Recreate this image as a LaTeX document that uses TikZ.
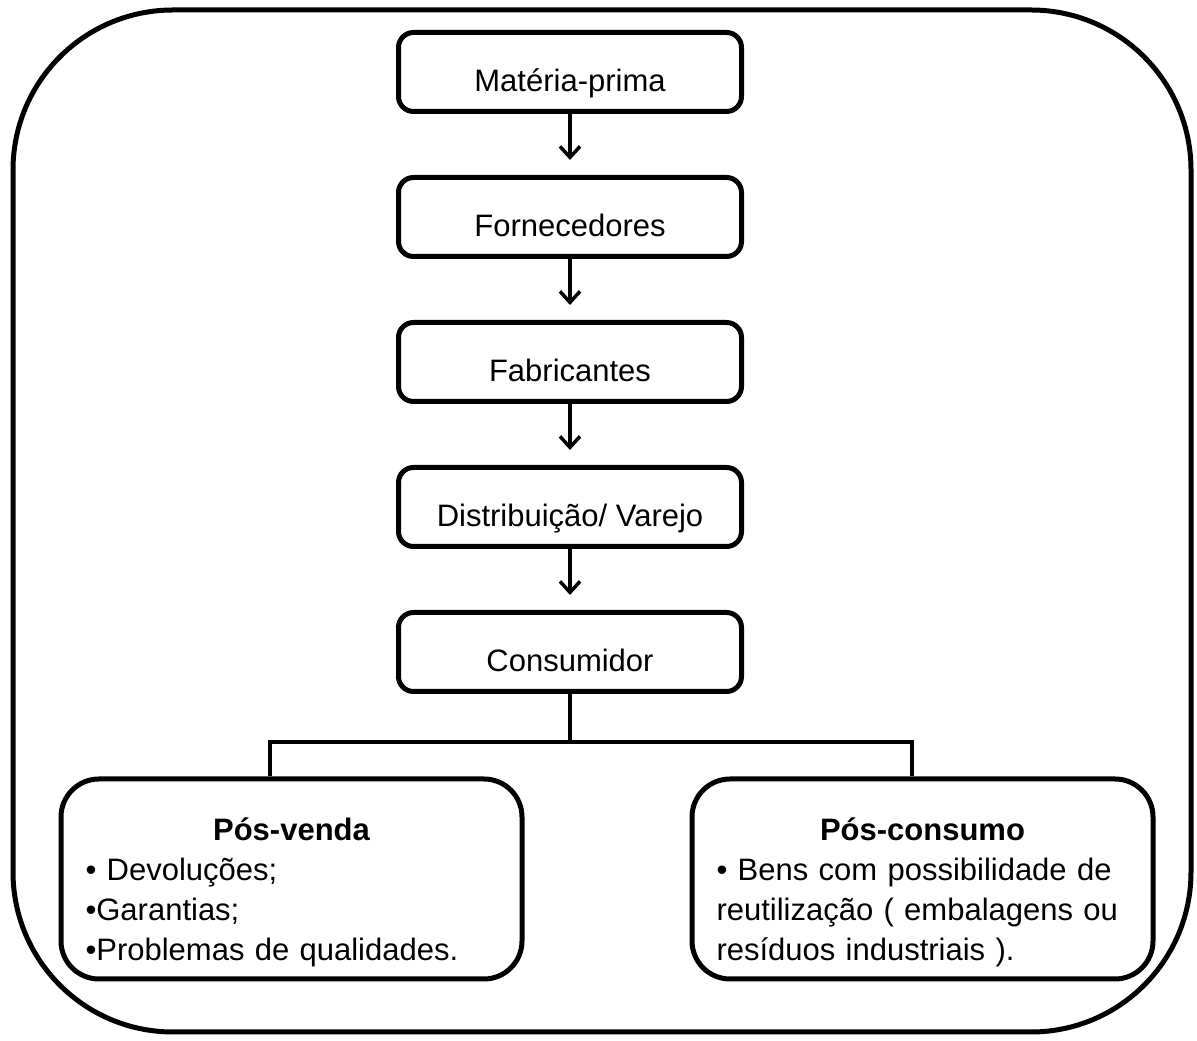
\documentclass[tikz,border=0pt]{standalone}
\usepackage{fontspec}
\setmainfont{Liberation Sans}
\usetikzlibrary{arrows.meta, positioning}

\tikzset{
  stage/.style={rectangle, rounded corners=15pt, draw, line width=5pt,
    minimum width=343pt, minimum height=79pt, text height=40pt, text depth=0pt,
    font=\fontsize{31}{40}\selectfont},
  flowbox/.style={rectangle, rounded corners=38pt, draw, line width=5pt,
    minimum width=461pt, minimum height=200pt, text width=412pt, inner xsep=24.5pt,
    align=left, font=\fontsize{31}{40}\selectfont},
}

\begin{document}
\begin{tikzpicture}[x=1pt, y=1pt, >={Straight Barb[length=11pt, width=20pt]}, node distance=61pt, line width=3.5pt]
        \useasboundingbox (0,0) rectangle (1197,1041);

        % moldura externa
        \draw[line width=5pt, rounded corners=160pt] (13,9) rectangle (1191,1031);

        \node[stage] at (570,969) (mat) {Matéria-prima};
        \node[stage, below=of mat] (forn) {Fornecedores};
        \node[stage, below=of forn] (fab) {Fabricantes};
        \node[stage, below=of fab] (dist) {Distribuição/ Varejo};
        \node[stage, below=of dist] (cons) {Consumidor};

        \node[flowbox] at (291.5,162) (venda) {\makebox[\linewidth]{\rule{0pt}{49pt}\bfseries Pós-venda}\\
          • Devoluções;\\•Garantias;\\•Problemas de qualidades.};
        \node[flowbox] at (922.5,162) (consumo) {\makebox[\linewidth]{\rule{0pt}{49pt}\bfseries Pós-consumo}\\
          • Bens com possibilidade de\\reutilização ( embalagens ou\\resíduos industriais ).};

        % Draw vertical arrows
        \draw[->, shorten >=15pt] (mat.south) -- (forn.north);
        \draw[->, shorten >=15pt] (forn.south) -- (fab.north);
        \draw[->, shorten >=15pt] (fab.south) -- (dist.north);
        \draw[->, shorten >=15pt] (dist.south) -- (cons.north);

        % Draw split lines
        \draw (cons.south) -- ++(0,-48) coordinate (split);
        \draw (split) -| ([xshift=-21.5pt]venda.north);
        \draw (split) -| ([xshift=-10.5pt]consumo.north);

    \end{tikzpicture}
\end{document}
